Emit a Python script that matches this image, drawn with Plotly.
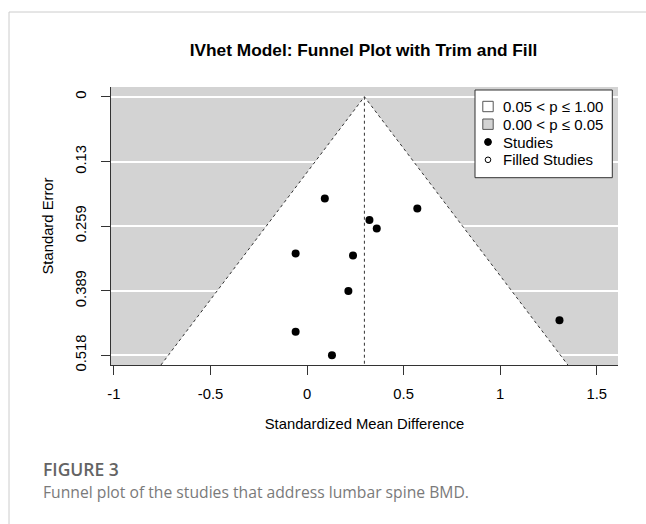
import plotly.graph_objects as go

# ---------------- data ----------------
smd = [0.092, 0.571, 0.323, 0.361, 0.238, 0.214, 1.307, 0.129, -0.059, -0.059]
se = [0.204, 0.224, 0.247, 0.264, 0.318, 0.389, 0.448, 0.518, 0.314, 0.471]
estimate = 0.297          # pooled IVhet estimate (funnel centre)
z_crit = 1.96
y_tickvals = [0, 0.13, 0.259, 0.389, 0.518]
y_ticktext = ["0", "0.13", "0.259", "0.389", "0.518"]
x_tickvals = [-1, -0.5, 0, 0.5, 1, 1.5]
x_ticktext = ["-1", "-0.5", "0", "0.5", "1", "1.5"]
legend_labels = ["0.05 < p \u2264 1.00", "0.00 < p \u2264 0.05", "Studies", "Filled Studies"]
title_text = "IVhet Model: Funnel Plot with Trim and Fill"
x_title = "Standardized Mean Difference"
y_title = "Standard Error"
fig_label = "FIGURE 3"
caption = "Funnel plot of the studies that address lumbar spine BMD."

# ---------------- layout constants ----------------
W, H = 646, 524
ML, MR, MT, MB = 111, 28, 87, 159
PW, PH = W - ML - MR, H - MT - MB
X_RANGE = [-1.015, 1.61]
SE_LIMIT = 0.5375
Y_RANGE = [SE_LIMIT, -0.0195]
GRAY = "#d3d3d3"
FONT = "Liberation Sans, Arial, sans-serif"
FS = 14.8


def fx(px):
    return (px - ML) / PW


def fy(py):
    return (H - MB - py) / PH


fig = go.Figure()

# white (non-significant) funnel region
fig.add_trace(go.Scatter(
    x=[estimate - z_crit * SE_LIMIT, estimate, estimate + z_crit * SE_LIMIT],
    y=[SE_LIMIT, 0, SE_LIMIT],
    fill="toself", fillcolor="white", mode="lines",
    line=dict(width=0), hoverinfo="skip", showlegend=False))

# funnel edges (dotted)
fig.add_trace(go.Scatter(
    x=[estimate - z_crit * SE_LIMIT, estimate, estimate + z_crit * SE_LIMIT],
    y=[SE_LIMIT, 0, SE_LIMIT],
    mode="lines", line=dict(color="#333333", width=1, dash="dot"),
    hoverinfo="skip", showlegend=False))

# vertical line at estimate
fig.add_trace(go.Scatter(
    x=[estimate, estimate], y=[0, SE_LIMIT],
    mode="lines", line=dict(color="#333333", width=1, dash="dot"),
    hoverinfo="skip", showlegend=False))

# studies
fig.add_trace(go.Scatter(
    x=smd, y=se, mode="markers",
    marker=dict(color="black", size=8),
    name="Studies", showlegend=False))

shapes = []
annotations = []

# card border
shapes.append(dict(type="rect", xref="paper", yref="paper",
                   x0=fx(9), x1=fx(W + 40), y0=fy(H + 40), y1=fy(12),
                   line=dict(color="#cccccc", width=1), fillcolor="rgba(0,0,0,0)",
                   layer="below"))

# custom legend (R style)
lx0, lx1, ly0, ly1 = 475, 612.3, 90, 177.7
shapes.append(dict(type="rect", xref="paper", yref="paper",
                   x0=fx(lx0), x1=fx(lx1), y0=fy(ly1), y1=fy(ly0),
                   line=dict(color="#333333", width=1), fillcolor="white", layer="above"))
rows = [106.5, 124.2, 142, 159.8]
sym_x = 488
sq = 5.2
shapes.append(dict(type="rect", xref="paper", yref="paper",
                   x0=fx(sym_x - sq), x1=fx(sym_x + sq), y0=fy(rows[0] + sq), y1=fy(rows[0] - sq),
                   line=dict(color="#555555", width=1), fillcolor="white", layer="above"))
shapes.append(dict(type="rect", xref="paper", yref="paper",
                   x0=fx(sym_x - sq), x1=fx(sym_x + sq), y0=fy(rows[1] + sq), y1=fy(rows[1] - sq),
                   line=dict(color="#555555", width=1), fillcolor=GRAY, layer="above"))
r1 = 3.4
shapes.append(dict(type="circle", xref="paper", yref="paper",
                   x0=fx(sym_x - r1), x1=fx(sym_x + r1), y0=fy(rows[2] + r1), y1=fy(rows[2] - r1),
                   line=dict(color="black", width=1), fillcolor="black", layer="above"))
r2 = 2.8
shapes.append(dict(type="circle", xref="paper", yref="paper",
                   x0=fx(sym_x - r2), x1=fx(sym_x + r2), y0=fy(rows[3] + r2), y1=fy(rows[3] - r2),
                   line=dict(color="black", width=1), fillcolor="white", layer="above"))
for lab, ry in zip(legend_labels, rows):
    annotations.append(dict(text=lab, xref="paper", yref="paper", x=fx(501), y=fy(ry),
                            xanchor="left", yanchor="middle", showarrow=False,
                            font=dict(family=FONT, size=15, color="black")))

# caption
annotations.append(dict(text=fig_label, xref="paper", yref="paper", x=fx(41), y=fy(469),
                        xanchor="left", yanchor="middle", showarrow=False,
                        font=dict(family="Open Sans, sans-serif", size=17.5, color="#646464", weight=600)))
annotations.append(dict(text=caption, xref="paper", yref="paper", x=fx(41), y=fy(492),
                        xanchor="left", yanchor="middle", showarrow=False,
                        font=dict(family="Open Sans, sans-serif", size=15.7, color="#7a7a7a")))

fig.update_layout(
    width=W, height=H,
    margin=dict(l=ML, r=MR, t=MT, b=MB, pad=0),
    paper_bgcolor="white", plot_bgcolor=GRAY,
    title=dict(text=title_text, x=fx(363.5), xref="paper", xanchor="center",
               y=1 - 50 / H, yref="container", yanchor="middle",
               font=dict(family=FONT, size=17.3, color="black", weight="bold")),
    xaxis=dict(range=X_RANGE, tickvals=x_tickvals, ticktext=x_ticktext,
               showgrid=False, zeroline=False, showline=True, linecolor="#333333", linewidth=1,
               ticks="outside", ticklen=9, tickcolor="#333333", tickwidth=1,
               ticklabelstandoff=6,
               tickfont=dict(family=FONT, size=FS, color="black"),
               title=dict(text=x_title, standoff=17, font=dict(family=FONT, size=FS, color="black"))),
    yaxis=dict(range=Y_RANGE, tickvals=y_tickvals, ticktext=y_ticktext, tickangle=-90,
               showgrid=True, gridcolor="white", gridwidth=1.5, zeroline=False,
               showline=True, linecolor="#333333", linewidth=1,
               ticks="outside", ticklen=9, tickcolor="#333333", tickwidth=1,
               ticklabelstandoff=9,
               tickfont=dict(family=FONT, size=FS, color="black"),
               title=dict(text=y_title, standoff=15, font=dict(family=FONT, size=FS, color="black"))),
    shapes=shapes, annotations=annotations, showlegend=False,
)

fig.write_html("out.html")
